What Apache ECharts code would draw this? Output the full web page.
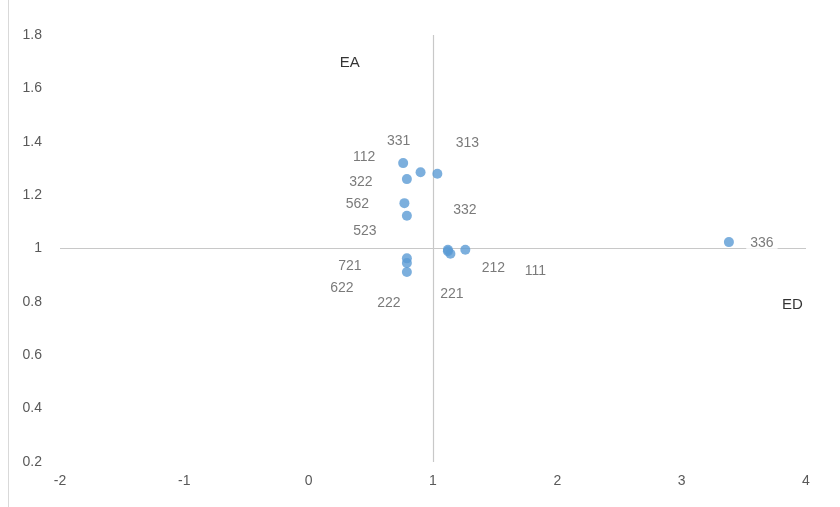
<!DOCTYPE html>
<html>
<head>
<meta charset="utf-8">
<script src="https://cdn.jsdelivr.net/npm/echarts@6/dist/echarts.min.js"></script>
<style>html,body{margin:0;padding:0;background:#fff}#c{width:840px;height:507px}</style>
</head>
<body>
<div id="c"></div>
<script>
// Data
var names = ['112','331','313','322','562','523','332','212','111','221','721','622','222','336'];
var edValues = [0.76, 0.90, 1.035, 0.79, 0.77, 0.79, 1.12, 1.14, 1.26, 1.12, 0.79, 0.79, 0.79, 3.38];
var eaValues = [1.32, 1.286, 1.28, 1.26, 1.17, 1.123, 0.995, 0.98, 0.995, 0.99, 0.963, 0.946, 0.912, 1.024];
var xTicks = [-2, -1, 0, 1, 2, 3, 4];
var yTicks = [0.2, 0.4, 0.6, 0.8, 1, 1.2, 1.4, 1.6, 1.8];
var axisTitles = ['EA', 'ED'];
var axisTitlePos = [[0.33, 1.695], [3.89, 0.79]];

// label offsets (pixels, styling only)
var labelOffsets = [[-39,-6],[-22,-31],[30,-31],[-46,3],[-47,1],[-42,15],[17,-40],[43,14],[70,21],[4,43],[-57,8],[-65,25],[-18,31],[33,1]];

var font = 'Liberation Sans';
var pts = names.map(function(n, i){
  var o = { value: [edValues[i], eaValues[i]], name: n,
    label: { show: true, formatter: n, position: 'inside', offset: labelOffsets[i],
             color: '#595959', fontSize: 14, fontFamily: font } };
  if (n === '336') { o.label.backgroundColor = '#fff'; o.label.padding = [2,4]; }
  return o;
});

var chart = echarts.init(document.getElementById('c'), null, {renderer: 'canvas'});
chart.setOption({
  animation: false,
  backgroundColor: '#fff',
  grid: { left: 60, right: 34, top: 35, bottom: 45 },
  xAxis: {
    type: 'value', min: xTicks[0], max: xTicks[xTicks.length-1], interval: 1,
    axisLine: { show: false }, axisTick: { show: false }, splitLine: { show: false },
    axisLabel: { color: '#595959', fontSize: 14, fontFamily: font, margin: 12 }
  },
  yAxis: {
    type: 'value', min: yTicks[0], max: yTicks[yTicks.length-1], interval: 0.2,
    axisLine: { show: false }, axisTick: { show: false }, splitLine: { show: false },
    axisLabel: { color: '#595959', fontSize: 14, fontFamily: font, margin: 18,
      formatter: function(v){ return String(Math.round(v*10)/10); } }
  },
  series: [{
    type: 'scatter',
    symbolSize: 10,
    itemStyle: { color: '#5B9BD5' },
    data: pts,
    z: 3,
    markLine: {
      silent: true, symbol: 'none', label: { show: false },
      lineStyle: { color: '#c8c8c8', width: 1.2, type: 'solid' },
      data: [ { xAxis: 1 }, { yAxis: 1 } ],
      z: 1
    }
  }, {
    type: 'scatter',
    symbolSize: 0,
    silent: true,
    data: axisTitles.map(function(t, i){
      return { value: axisTitlePos[i], label: { show: true, formatter: t, position: 'inside', color: '#000', fontSize: 15, fontFamily: font } };
    })
  }],
  graphic: [{ type: 'line', shape: { x1: 8.5, y1: 0, x2: 8.5, y2: 507 }, style: { stroke: '#d9d9d9', lineWidth: 1 } }]
});
</script>
</body>
</html>
